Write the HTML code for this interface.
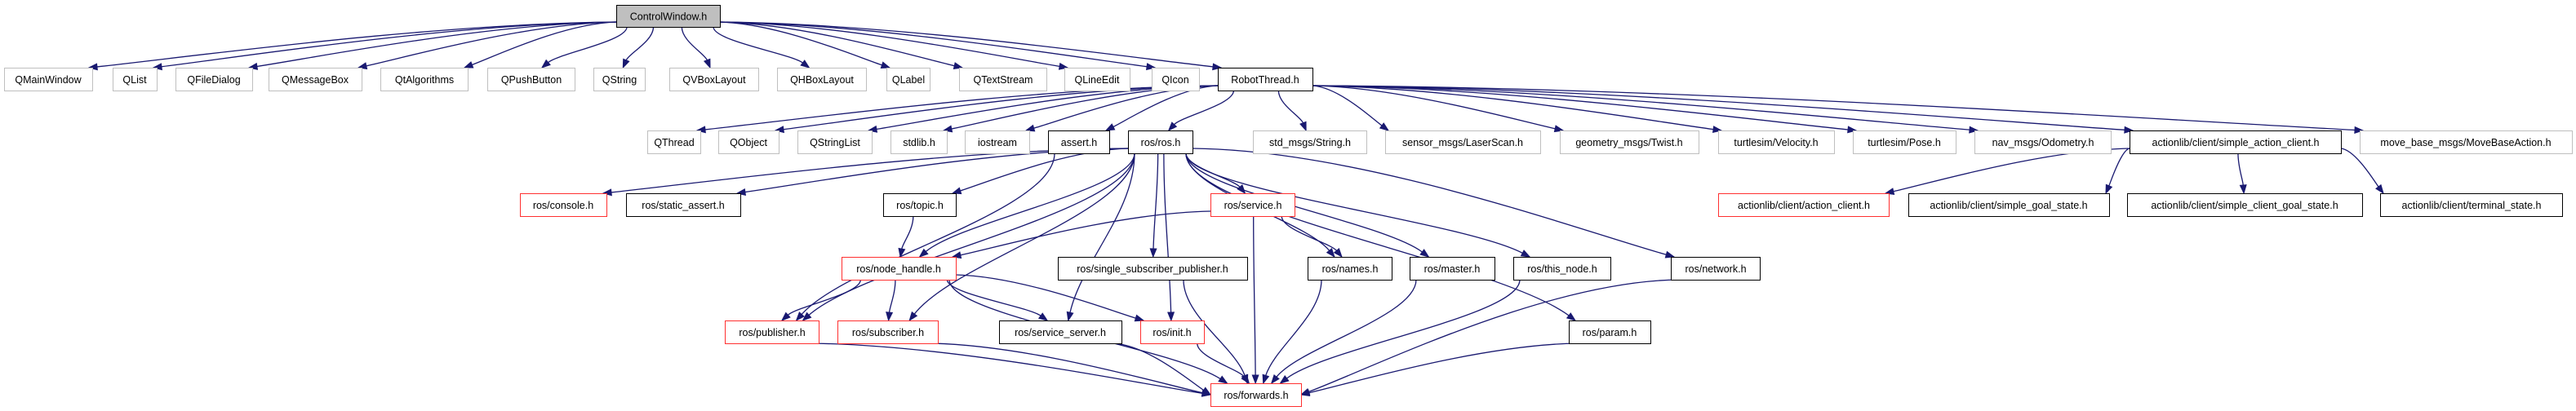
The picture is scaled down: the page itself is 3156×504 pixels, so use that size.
<!DOCTYPE html>
<html><head><meta charset="utf-8"><style>
html,body{margin:0;padding:0;background:#fff;}
svg{display:block;}
text{font-family:"Liberation Sans","DejaVu Sans",sans-serif;font-size:12.5px;fill:#000;}
</style></head><body>
<svg id="g" width="3156" height="504" viewBox="0 0 3156 504" xmlns="http://www.w3.org/2000/svg">
<g id="edges" fill="none" stroke="#191970" stroke-width="1.3"></g>
<g id="heads" fill="#191970" stroke="#191970" stroke-width="1"></g>
<g id="nodes">
<rect x="755.5" y="6.5" width="127" height="27" fill="#bfbfbf" stroke="#000"/><text x="819" y="24.5" text-anchor="middle">ControlWindow.h</text>
<rect x="5.5" y="83.5" width="108" height="28" fill="#fff" stroke="#bfbfbf"/><text x="59" y="102" text-anchor="middle">QMainWindow</text>
<rect x="138.5" y="83.5" width="54" height="28" fill="#fff" stroke="#bfbfbf"/><text x="165" y="102" text-anchor="middle">QList</text>
<rect x="215.5" y="83.5" width="94" height="28" fill="#fff" stroke="#bfbfbf"/><text x="262" y="102" text-anchor="middle">QFileDialog</text>
<rect x="329.5" y="83.5" width="114" height="28" fill="#fff" stroke="#bfbfbf"/><text x="386" y="102" text-anchor="middle">QMessageBox</text>
<rect x="466.5" y="83.5" width="107" height="28" fill="#fff" stroke="#bfbfbf"/><text x="520" y="102" text-anchor="middle">QtAlgorithms</text>
<rect x="597.5" y="83.5" width="107" height="28" fill="#fff" stroke="#bfbfbf"/><text x="651" y="102" text-anchor="middle">QPushButton</text>
<rect x="727.5" y="83.5" width="63" height="28" fill="#fff" stroke="#bfbfbf"/><text x="759" y="102" text-anchor="middle">QString</text>
<rect x="820.5" y="83.5" width="109" height="28" fill="#fff" stroke="#bfbfbf"/><text x="875" y="102" text-anchor="middle">QVBoxLayout</text>
<rect x="952.5" y="83.5" width="109" height="28" fill="#fff" stroke="#bfbfbf"/><text x="1007" y="102" text-anchor="middle">QHBoxLayout</text>
<rect x="1086.5" y="83.5" width="53" height="28" fill="#fff" stroke="#bfbfbf"/><text x="1113" y="102" text-anchor="middle">QLabel</text>
<rect x="1175.5" y="83.5" width="107" height="28" fill="#fff" stroke="#bfbfbf"/><text x="1229" y="102" text-anchor="middle">QTextStream</text>
<rect x="1304.5" y="83.5" width="80" height="28" fill="#fff" stroke="#bfbfbf"/><text x="1344" y="102" text-anchor="middle">QLineEdit</text>
<rect x="1411.5" y="83.5" width="58" height="28" fill="#fff" stroke="#bfbfbf"/><text x="1440" y="102" text-anchor="middle">QIcon</text>
<rect x="1492.5" y="83.5" width="116" height="28" fill="#fff" stroke="#000"/><text x="1550" y="102" text-anchor="middle">RobotThread.h</text>

<rect x="793.5" y="160.5" width="65" height="28" fill="#fff" stroke="#bfbfbf"/><text x="826" y="179" text-anchor="middle">QThread</text>
<rect x="880.5" y="160.5" width="74" height="28" fill="#fff" stroke="#bfbfbf"/><text x="917" y="179" text-anchor="middle">QObject</text>
<rect x="977.5" y="160.5" width="91" height="28" fill="#fff" stroke="#bfbfbf"/><text x="1023" y="179" text-anchor="middle">QStringList</text>
<rect x="1091.5" y="160.5" width="69" height="28" fill="#fff" stroke="#bfbfbf"/><text x="1126" y="179" text-anchor="middle">stdlib.h</text>
<rect x="1182.5" y="160.5" width="79" height="28" fill="#fff" stroke="#bfbfbf"/><text x="1222" y="179" text-anchor="middle">iostream</text>
<rect x="1284.5" y="160.5" width="75" height="28" fill="#fff" stroke="#000"/><text x="1322" y="179" text-anchor="middle">assert.h</text>
<rect x="1382.5" y="160.5" width="79" height="28" fill="#fff" stroke="#000"/><text x="1422" y="179" text-anchor="middle">ros/ros.h</text>
<rect x="1535.5" y="160.5" width="139" height="28" fill="#fff" stroke="#bfbfbf"/><text x="1605" y="179" text-anchor="middle">std_msgs/String.h</text>
<rect x="1697.5" y="160.5" width="190" height="28" fill="#fff" stroke="#bfbfbf"/><text x="1792" y="179" text-anchor="middle">sensor_msgs/LaserScan.h</text>
<rect x="1911.5" y="160.5" width="170" height="28" fill="#fff" stroke="#bfbfbf"/><text x="1996" y="179" text-anchor="middle">geometry_msgs/Twist.h</text>
<rect x="2105.5" y="160.5" width="142" height="28" fill="#fff" stroke="#bfbfbf"/><text x="2176" y="179" text-anchor="middle">turtlesim/Velocity.h</text>
<rect x="2270.5" y="160.5" width="126" height="28" fill="#fff" stroke="#bfbfbf"/><text x="2333" y="179" text-anchor="middle">turtlesim/Pose.h</text>
<rect x="2419.5" y="160.5" width="167" height="28" fill="#fff" stroke="#bfbfbf"/><text x="2503" y="179" text-anchor="middle">nav_msgs/Odometry.h</text>
<rect x="2609.5" y="160.5" width="259" height="28" fill="#fff" stroke="#000"/><text x="2739" y="179" text-anchor="middle">actionlib/client/simple_action_client.h</text>
<rect x="2891.5" y="160.5" width="260" height="28" fill="#fff" stroke="#bfbfbf"/><text x="3021" y="179" text-anchor="middle">move_base_msgs/MoveBaseAction.h</text>

<rect x="637.5" y="237.5" width="106" height="28" fill="#fff" stroke="#ff3030"/><text x="690" y="256" text-anchor="middle">ros/console.h</text>
<rect x="767.5" y="237.5" width="140" height="28" fill="#fff" stroke="#000"/><text x="837" y="256" text-anchor="middle">ros/static_assert.h</text>
<rect x="1082.5" y="237.5" width="89" height="28" fill="#fff" stroke="#000"/><text x="1127" y="256" text-anchor="middle">ros/topic.h</text>
<rect x="1483.5" y="237.5" width="103" height="28" fill="#fff" stroke="#ff3030"/><text x="1535" y="256" text-anchor="middle">ros/service.h</text>
<rect x="2105.5" y="237.5" width="209" height="28" fill="#fff" stroke="#ff3030"/><text x="2210" y="256" text-anchor="middle">actionlib/client/action_client.h</text>
<rect x="2338.5" y="237.5" width="246" height="28" fill="#fff" stroke="#000"/><text x="2461" y="256" text-anchor="middle">actionlib/client/simple_goal_state.h</text>
<rect x="2606.5" y="237.5" width="288" height="28" fill="#fff" stroke="#000"/><text x="2750" y="256" text-anchor="middle">actionlib/client/simple_client_goal_state.h</text>
<rect x="2916.5" y="237.5" width="223" height="28" fill="#fff" stroke="#000"/><text x="3028" y="256" text-anchor="middle">actionlib/client/terminal_state.h</text>

<rect x="1031.5" y="315.5" width="140" height="28" fill="#fff" stroke="#ff3030"/><text x="1101" y="334" text-anchor="middle">ros/node_handle.h</text>
<rect x="1296.5" y="315.5" width="232" height="28" fill="#fff" stroke="#000"/><text x="1412" y="334" text-anchor="middle">ros/single_subscriber_publisher.h</text>
<rect x="1602.5" y="315.5" width="103" height="28" fill="#fff" stroke="#000"/><text x="1654" y="334" text-anchor="middle">ros/names.h</text>
<rect x="1727.5" y="315.5" width="104" height="28" fill="#fff" stroke="#000"/><text x="1779" y="334" text-anchor="middle">ros/master.h</text>
<rect x="1854.5" y="315.5" width="119" height="28" fill="#fff" stroke="#000"/><text x="1914" y="334" text-anchor="middle">ros/this_node.h</text>
<rect x="2047.5" y="315.5" width="109" height="28" fill="#fff" stroke="#000"/><text x="2102" y="334" text-anchor="middle">ros/network.h</text>

<rect x="888.5" y="393.5" width="115" height="28" fill="#fff" stroke="#ff3030"/><text x="946" y="412" text-anchor="middle">ros/publisher.h</text>
<rect x="1026.5" y="393.5" width="123" height="28" fill="#fff" stroke="#ff3030"/><text x="1088" y="412" text-anchor="middle">ros/subscriber.h</text>
<rect x="1224.5" y="393.5" width="150" height="28" fill="#fff" stroke="#000"/><text x="1299" y="412" text-anchor="middle">ros/service_server.h</text>
<rect x="1397.5" y="393.5" width="78" height="28" fill="#fff" stroke="#ff3030"/><text x="1436" y="412" text-anchor="middle">ros/init.h</text>
<rect x="1922.5" y="393.5" width="100" height="28" fill="#fff" stroke="#000"/><text x="1972" y="412" text-anchor="middle">ros/param.h</text>

<rect x="1483.5" y="470.5" width="111" height="28" fill="#fff" stroke="#ff3030"/><text x="1539" y="489" text-anchor="middle">ros/forwards.h</text>
</g>
</svg>
<script>
var N={
CW:[755,882,6,33],QMainWindow:[5,113,83,111],QList:[138,192,83,111],QFileDialog:[215,309,83,111],QMessageBox:[329,443,83,111],QtAlgorithms:[466,573,83,111],QPushButton:[597,704,83,111],QString:[727,790,83,111],QVBox:[820,929,83,111],QHBox:[952,1061,83,111],QLabel:[1086,1139,83,111],QTextStream:[1175,1282,83,111],QLineEdit:[1304,1384,83,111],QIcon:[1411,1469,83,111],RT:[1492,1608,83,111],
QThread:[793,858,160,188],QObject:[880,954,160,188],QStringList:[977,1068,160,188],stdlib:[1091,1160,160,188],iostream:[1182,1261,160,188],assert:[1284,1359,160,188],ros:[1382,1461,160,188],str:[1535,1674,160,188],laser:[1697,1887,160,188],twist:[1911,2081,160,188],vel:[2105,2247,160,188],pose:[2270,2396,160,188],odom:[2419,2586,160,188],sac:[2609,2868,160,188],mb:[2891,3151,160,188],
console:[637,743,237,265],sa:[767,907,237,265],topic:[1082,1171,237,265],service:[1483,1586,237,265],ac:[2105,2314,237,265],sgs:[2338,2584,237,265],scgs:[2606,2894,237,265],ts:[2916,3139,237,265],
nh:[1031,1171,315,343],ssp:[1296,1528,315,343],names:[1602,1705,315,343],master:[1727,1831,315,343],thisnode:[1854,1973,315,343],network:[2047,2156,315,343],
pub:[888,1003,393,421],sub:[1026,1149,393,421],ss:[1224,1374,393,421],init:[1397,1475,393,421],param:[1922,2022,393,421],fwd:[1483,1594,470,498]};
var E=[
["CW","QMainWindow"],["CW","QList"],["CW","QFileDialog"],["CW","QMessageBox"],["CW","QtAlgorithms"],["CW","QPushButton"],["CW","QString"],["CW","QVBox"],["CW","QHBox"],["CW","QLabel"],["CW","QTextStream"],["CW","QLineEdit"],["CW","QIcon"],["CW","RT"],
["RT","QThread"],["RT","QObject"],["RT","QStringList"],["RT","stdlib"],["RT","iostream"],["RT","assert"],["RT","ros"],["RT","str"],["RT","laser"],["RT","twist"],["RT","vel"],["RT","pose"],["RT","odom"],["RT","sac"],["RT","mb"],
["sac","ac"],["sac","sgs"],["sac","scgs"],["sac","ts"],
["ros","console"],["ros","sa"],["ros","topic"],["ros","service"],["ros","nh"],["ros","ssp"],["ros","names"],["ros","master"],["ros","thisnode"],["ros","network"],["ros","param"],["ros","pub"],["ros","sub"],["ros","ss"],["ros","init"],["assert","pub"],
["topic","nh"],["service","nh"],["service","names"],["service","fwd"],
["nh","pub"],["nh","sub"],["nh","ss"],["nh","init"],["nh","fwd"],
["ssp","fwd"],["names","fwd"],["master","fwd"],["thisnode","fwd"],["network","fwd"],["param","fwd"],["pub","fwd"],["sub","fwd"],["ss","fwd"],["init","fwd"]];
var eg=document.getElementById("edges"),hg=document.getElementById("heads"),ns="http://www.w3.org/2000/svg";
function cl(v,a,b){return Math.max(a,Math.min(b,v));}
E.forEach(function(e){
 var s=N[e[0]],t=N[e[1]];
 var scx=(s[0]+s[1])/2,tcx=(t[0]+t[1])/2;
 var dy=t[2]-s[3],dx=tcx-scx;
 var sx,sy,ex,ey,c1x,c1y,c2x,c2y;
 if(Math.abs(dx)>4*dy && dy<150){
  // side departure
  var left=dx<0;
  sx=left?s[0]:s[1]; sy=s[3]-6;
  ex=left?t[1]-4:t[0]+4; ey=t[2];
  if(e[1]=="fwd"){ex=left?t[1]:t[0];ey=(t[2]+t[3])/2;sx=left?s[0]+10:s[1]-10;sy=s[3];}
  c1x=sx+(ex-sx)*0.35;c1y=sy+2;c2x=sx+(ex-sx)*0.8;c2y=ey-(ey-sy)*0.25;
 } else {
  sx=cl(scx+dx*0.3,s[0]+8,s[1]-8); sy=s[3];
  ex=cl(tcx-dx*0.08,t[0]+8,t[1]-8); ey=t[2];
  c1x=sx;c1y=sy+dy*0.35;c2x=ex-(ex-sx)*0.2;c2y=ey-dy*0.35;
 }
 var ax=ex-c2x,ay=ey-c2y,L=Math.sqrt(ax*ax+ay*ay)||1;ax/=L;ay/=L;
 var bx=ex-ax*10,by=ey-ay*10;
 var p=document.createElementNS(ns,"path");
 p.setAttribute("d","M"+sx+","+sy+" C"+c1x+","+c1y+" "+c2x+","+c2y+" "+bx+","+by);
 eg.appendChild(p);
 var h=document.createElementNS(ns,"polygon");
 h.setAttribute("points",ex+","+ey+" "+(bx-ay*3.8)+","+(by+ax*3.8)+" "+(bx+ay*3.8)+","+(by-ax*3.8));
 hg.appendChild(h);
});
</script>
</body></html>
